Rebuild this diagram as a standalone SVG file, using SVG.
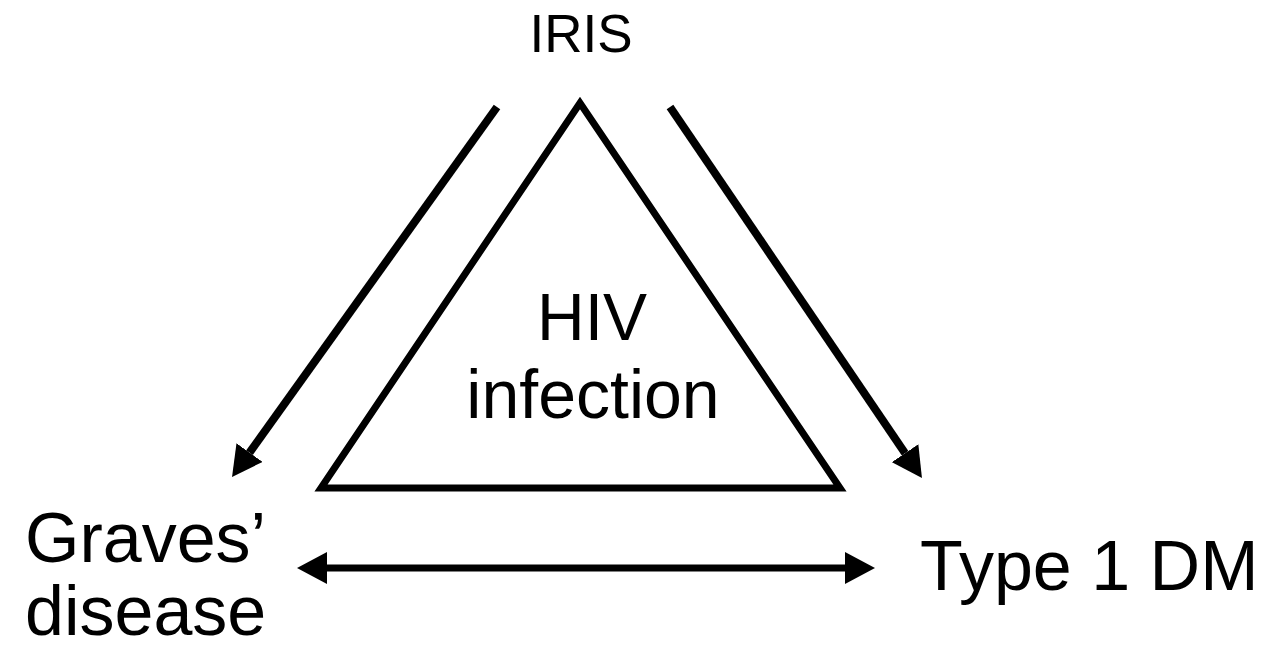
<svg xmlns="http://www.w3.org/2000/svg" width="1263" height="658" viewBox="0 0 1263 658">
<style>
text{font-family:"Liberation Sans",Arial,sans-serif;fill:#000}
.conn{stroke:#000;stroke-width:8;fill:none}
</style>
<defs>
<marker id="ah" viewBox="0 0 30 32" refX="0" refY="16" markerWidth="30" markerHeight="32" markerUnits="userSpaceOnUse" orient="auto-start-reverse">
<path d="M0,0 L30,16 L0,32 Z" fill="#000"/>
</marker>
</defs>
<rect width="1263" height="658" fill="#fff"/>
<g id="node-iris"><text x="581" y="52" font-size="53" text-anchor="middle">IRIS</text></g>
<g id="node-hiv">
<polygon points="580,103 321,488 840,488" fill="none" stroke="#000" stroke-width="7" stroke-linejoin="miter"/>
<text x="592" y="340" font-size="66" text-anchor="middle">HIV</text>
<text x="593" y="418" font-size="68" text-anchor="middle">infection</text>
</g>
<g id="node-graves">
<text x="25" y="562" font-size="70">Graves’</text>
<text x="25" y="635" font-size="70">disease</text>
</g>
<g id="node-t1dm"><text x="920" y="590" font-size="70">Type 1 DM</text></g>
<g id="connectors">
<line class="conn" x1="497" y1="107" x2="249.5" y2="452.6" marker-end="url(#ah)"/>
<line class="conn" x1="670" y1="107" x2="905.1" y2="453.2" marker-end="url(#ah)"/>
<line class="conn" style="stroke-width:7" x1="327" y1="568" x2="845" y2="568" marker-start="url(#ah)" marker-end="url(#ah)"/>
</g>
</svg>
